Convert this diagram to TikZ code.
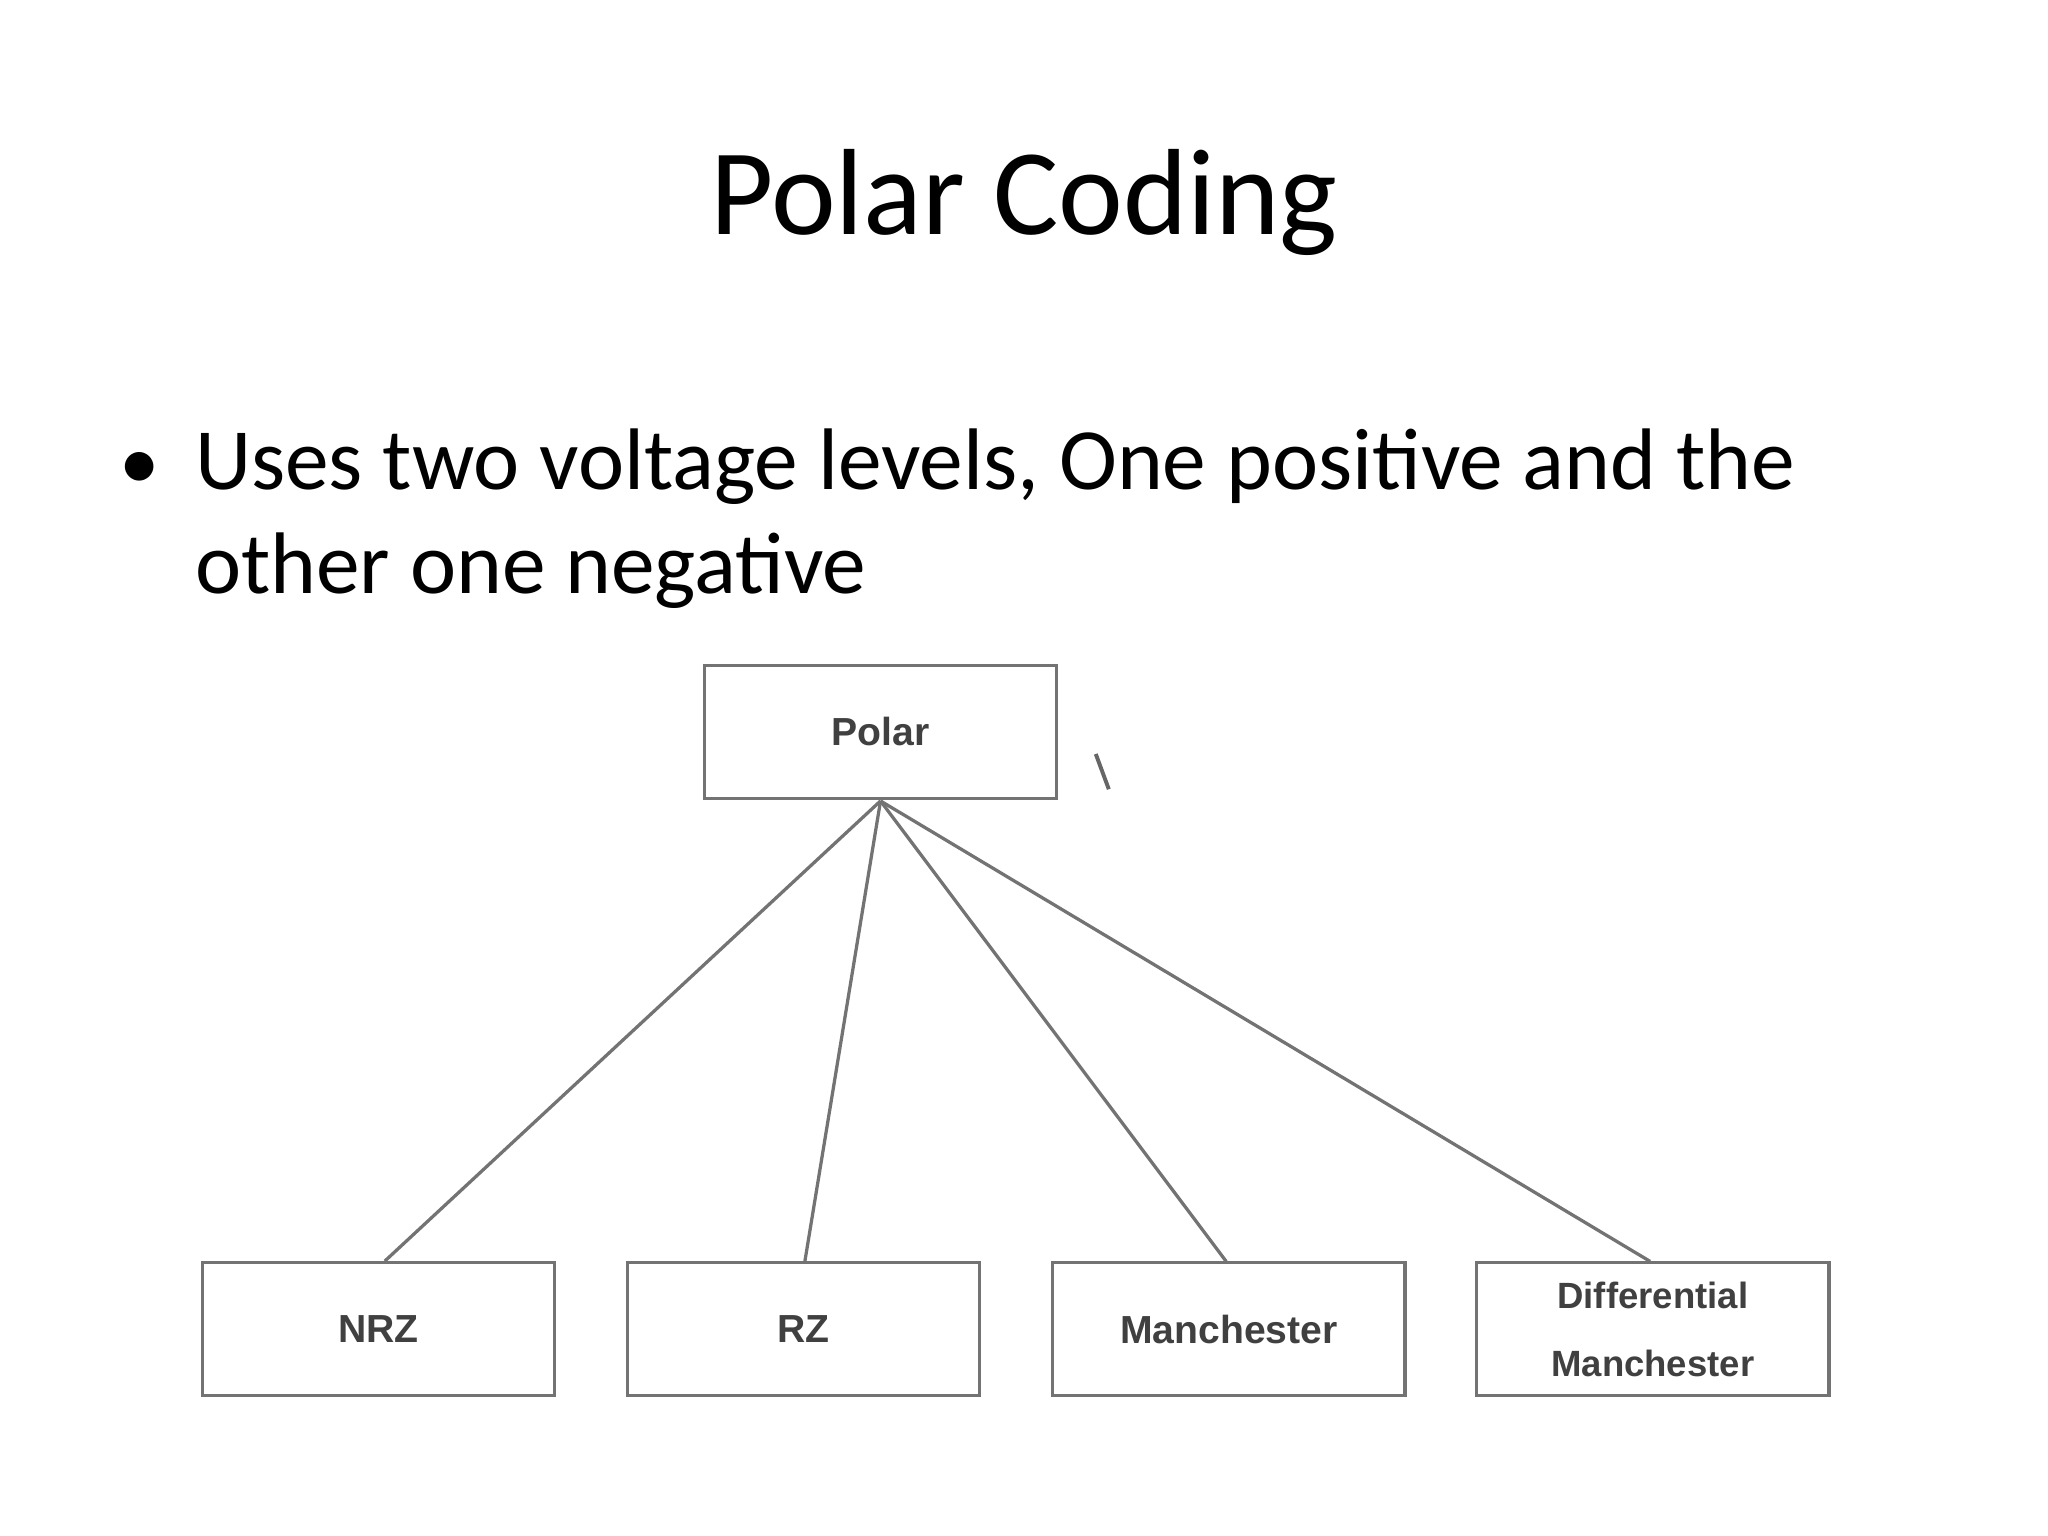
\documentclass[tikz,border=0pt]{standalone}
\usepackage{fontspec}
\setmainfont{Carlito}
\newfontfamily\boxfont{Liberation Sans}
\begin{document}
\begin{tikzpicture}[x=1pt,y=-1pt]
\useasboundingbox (0,0) rectangle (1570,1177);
\tikzset{bx/.style={draw=black!55,line width=2.5pt,minimum width=270pt,minimum height=102pt,inner sep=0pt,font=\boxfont\bfseries\fontsize{30}{34}\selectfont,text=black!75,align=center},
ln/.style={draw=black!55,line width=2.5pt}}
\node[font=\fontsize{94}{100}\selectfont,anchor=base] (title) at (785,180) {Polar Coding};
\node[font=\fontsize{62}{70}\selectfont,anchor=base west] (b) at (88,375) {•};
\node[font=\fontsize{67}{70}\selectfont,anchor=base west,align=left] (t1) at (146,375) {Uses two voltage levels, One positive and the};
\node[font=\fontsize{67}{70}\selectfont,anchor=base west] (t2) at (146,455) {other one negative};
\node[bx] (polar) at (675,561) {Polar};
\node[bx] (nrz) at (290,1019) {NRZ};
\node[bx] (rz) at (616,1019) {RZ};
\node[bx] (man) at (942,1019) {Manchester};
\node[bx,font=\boxfont\bfseries\fontsize{28}{52}\selectfont] (dm) at (1267,1019) {Differential\\Manchester};
\coordinate (p) at (675,614);
\draw[ln] (p) -- (nrz.north -| 295,0);
\draw[ln] (p) -- (617,967);
\draw[ln] (p) -- (940,967);
\draw[ln] (p) -- (1265,967);
\draw[black!60,line width=3pt] (840,578) -- (850,605);
\end{tikzpicture}
\end{document}
